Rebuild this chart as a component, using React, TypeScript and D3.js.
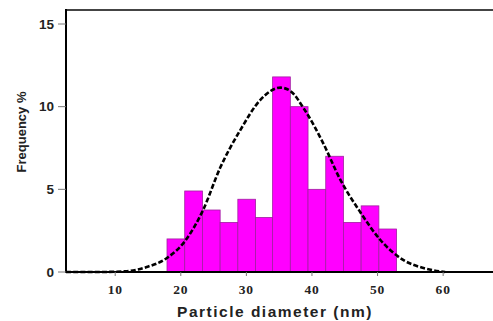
import React, { useRef, useEffect } from "react";
import * as d3 from "d3";

// histogram bins (nm) and heights (%)
const binEdges = [17.9, 20.6, 23.3, 26.0, 28.7, 31.4, 34.0, 36.7, 39.4, 42.1, 44.8, 47.5, 50.2, 52.9];
const freqs = [2.0, 4.9, 3.75, 3.0, 4.4, 3.3, 11.8, 10.0, 5.0, 7.0, 3.0, 4.0, 2.6];

// fitted curve, points
const fitX = [2.5, 7.7, 11.8, 14.8, 17.9, 20.7, 23.4, 26.0, 29.1, 32.1, 35.2, 36.7, 38.9, 41.7, 44.3, 47.4, 50.4, 53.9, 57.0, 60.3];
const fitY = [0, 0, 0.05, 0.3, 0.85, 1.9, 3.75, 6.3, 8.6, 10.4, 11.15, 10.95, 9.8, 7.8, 5.6, 3.6, 1.95, 0.73, 0.24, 0];

const xTicks = [10, 20, 30, 40, 50, 60];
const yTicks = [0, 5, 10, 15];

export default function App() {
  const ref = useRef<SVGSVGElement>(null);

  useEffect(() => {
    if (!ref.current) return;
    const svg = d3.select(ref.current);
    svg.selectAll("*").remove();

    const left = 66, right = 493, top = 10, bottom = 272;
    const x = d3.scaleLinear().domain([2.5, 67.6]).range([left, right]);
    const y = d3.scaleLinear().domain([0, 15]).range([bottom, 24]);

    // bars
    svg.append("g")
      .selectAll("rect")
      .data(freqs)
      .enter()
      .append("rect")
      .attr("x", (d, i) => x(binEdges[i]))
      .attr("y", d => y(d))
      .attr("width", (d, i) => x(binEdges[i + 1]) - x(binEdges[i]))
      .attr("height", d => y(0) - y(d))
      .attr("fill", "#ff00ff")
      .attr("stroke", "#a020a0")
      .attr("stroke-width", 0.8);

    // fit curve
    const pts = fitX.map((v, i) => [v, fitY[i]] as [number, number]);
    const line = d3.line<[number, number]>()
      .x(d => x(d[0]))
      .y(d => y(d[1]))
      .curve(d3.curveMonotoneX);
    svg.append("path")
      .attr("d", line(pts)!)
      .attr("fill", "none")
      .attr("stroke", "#000")
      .attr("stroke-width", 2.6)
      .attr("stroke-dasharray", "5,2.2");

    // frame
    svg.append("line").attr("x1", left).attr("x2", right).attr("y1", top).attr("y2", top)
      .attr("stroke", "#444").attr("stroke-width", 2);
    svg.append("line").attr("x1", left).attr("x2", right).attr("y1", bottom).attr("y2", bottom)
      .attr("stroke", "#000").attr("stroke-width", 2);
    svg.append("line").attr("x1", left).attr("x2", left).attr("y1", top - 1).attr("y2", bottom + 1)
      .attr("stroke", "#000").attr("stroke-width", 2);

    // y ticks
    yTicks.forEach(t => {
      svg.append("line").attr("x1", left - 8).attr("x2", left).attr("y1", y(t)).attr("y2", y(t))
        .attr("stroke", "#777").attr("stroke-width", 1);
      svg.append("text")
        .attr("x", left - 12)
        .attr("y", y(t))
        .attr("text-anchor", "end")
        .attr("dominant-baseline", "central")
        .style("font-family", "Liberation Sans, Arial, sans-serif")
        .style("font-weight", "bold")
        .style("font-size", "13.5px")
        .attr("fill", "#222")
        .text(t);
    });

    // x ticks
    xTicks.forEach(t => {
      svg.append("line").attr("x1", x(t)).attr("x2", x(t)).attr("y1", bottom).attr("y2", bottom + 4)
        .attr("stroke", "#777").attr("stroke-width", 1);
      svg.append("text")
        .attr("x", x(t))
        .attr("y", 294)
        .attr("text-anchor", "middle")
        .style("font-family", "Liberation Serif, Times New Roman, serif")
        .style("font-weight", "bold")
        .style("font-size", "13.5px")
        .style("letter-spacing", "0.8px")
        .attr("fill", "#222")
        .text(t);
    });

    // axis titles
    svg.append("text")
      .attr("x", 275)
      .attr("y", 317)
      .attr("text-anchor", "middle")
      .style("font-family", "Liberation Sans, Arial, sans-serif")
      .style("font-weight", "bold")
      .style("font-size", "15.5px")
      .style("letter-spacing", "1.5px")
      .attr("fill", "#222")
      .text("Particle diameter (nm)");

    svg.append("text")
      .attr("transform", "translate(26,132) rotate(-90)")
      .attr("text-anchor", "middle")
      .style("font-family", "Liberation Sans, Arial, sans-serif")
      .style("font-weight", "bold")
      .style("font-size", "13px")
      .attr("fill", "#222")
      .text("Frequency %");
  }, []);

  return (
    <svg
      ref={ref}
      width={493}
      height={321}
      style={{ position: "absolute", left: 0, top: 0, background: "#fff" }}
    />
  );
}
